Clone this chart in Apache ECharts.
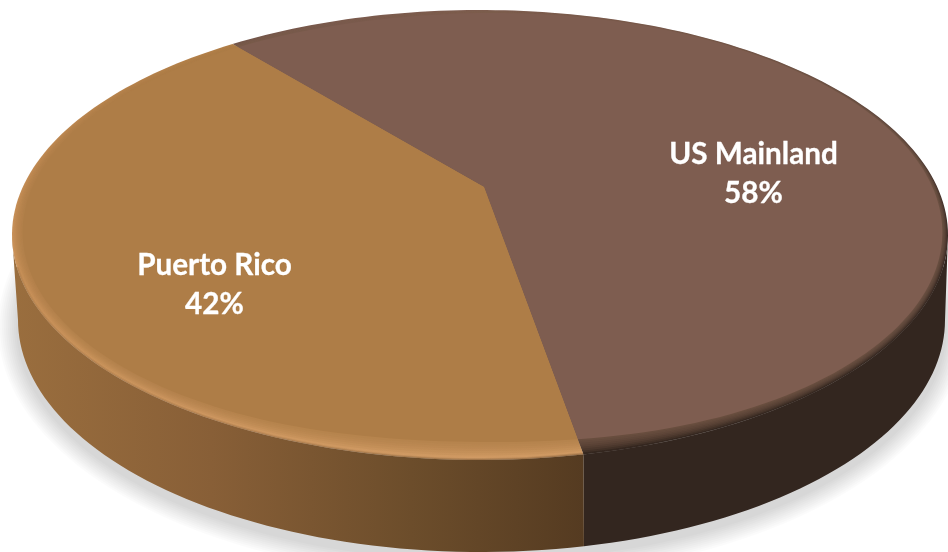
<!DOCTYPE html>
<html>
<head>
<meta charset="utf-8">
<style>html,body{margin:0;padding:0;background:#fff}#c{width:948px;height:552px}</style>
<script src="https://cdn.jsdelivr.net/npm/echarts@6/dist/echarts.min.js"></script>
</head>
<body>
<div id="c"></div>
<script>
const categories = ['US Mainland', 'Puerto Rico'];
const shares = [58, 42];

const faceColors = ['#7E5D50', '#AE7D47'];
const rimColors = [
  [[0, '#7E5D50'], [0.22, '#5E463C'], [0.5, '#3A2A24'], [1, '#35271F']],
  [[0, '#AE7D47'], [0.3, '#BE8851'], [0.55, '#CC935A'], [1, '#D69F68']]
];
const wallColors = [
  [[0, '#33261F'], [1, '#33261F']],
  [[0, '#9A6E3E'], [0.35, '#885F37'], [0.7, '#6C4D2B'], [1, '#553B21']]
];
const labelAnchors = [[753.5, 174], [214.5, 285]];

const START_DEG = 230.9;
const TOP = { cx: 480, cy: 235, rx: 468, ry: 225 };
const INNER = { cx: 482.5, cy: 227.5, rx: 460.5, ry: 214.5 };
const BOTTOM = { cx: 481.5, cy: 320, rx: 463.5, ry: 232 };
const APEX = [484, 187];
const SKEW = -0.213;
const BANDS = 8;
const total = shares.reduce((a, b) => a + b, 0);

function project(e, rad) {
  const x = Math.cos(rad), y = Math.sin(rad), p = SKEW;
  const d = 1 + p * y;
  return [e.cx + e.rx * x * Math.sqrt(1 - p * p) / d, e.cy + e.ry * (y + p) / d];
}
function arc(e, a0, a1) {
  const pts = [], n = Math.max(2, Math.ceil(Math.abs(a1 - a0) * 40));
  for (let i = 0; i <= n; i++) pts.push(project(e, a0 + (a1 - a0) * i / n));
  return pts;
}
function insetArc(frac, a0, a1) {
  const outer = arc(TOP, a0, a1), inner = arc(INNER, a0, a1);
  return outer.map((o, i) => {
    const s = Math.hypot(inner[i][0] - APEX[0], inner[i][1] - APEX[1]) /
              Math.hypot(o[0] - APEX[0], o[1] - APEX[1]);
    const f = 1 - (1 - s) * frac;
    return [APEX[0] + (o[0] - APEX[0]) * f, APEX[1] + (o[1] - APEX[1]) * f];
  });
}
function grad(stops, x0, y0, x1, y1) {
  return new echarts.graphic.LinearGradient(x0, y0, x1, y1,
    stops.map(s => ({ offset: s[0], color: s[1] })), true);
}
function frontRange(a0, a1) {
  const tR = Math.asin(-SKEW), tL = Math.PI - tR;
  for (let k = -1; k <= 2; k++) {
    const s = Math.max(a0, tR + 2 * Math.PI * k), e = Math.min(a1, tL + 2 * Math.PI * k);
    if (e > s) return [s, e];
  }
  return null;
}

function renderSlice(params, api) {
  const i = params.dataIndex;
  let before = 0;
  for (let k = 0; k < i; k++) before += shares[k];
  const a0 = (START_DEG + before / total * 360) * Math.PI / 180;
  const a1 = a0 + api.value(0) / total * Math.PI * 2;
  const children = [];
  if (i === 0) {
    for (let k = 1; k <= 10; k++) {
      const grow = (11 - k) * 2;
      children.push({
        type: 'polygon', z2: 0, silent: true,
        shape: { points: arc({ cx: BOTTOM.cx, cy: BOTTOM.cy + 7, rx: BOTTOM.rx + grow, ry: BOTTOM.ry + grow }, 0, Math.PI * 2) },
        style: { fill: 'rgba(0,0,0,0.014)' }
      });
    }
  }
  const wallFill = grad(wallColors[i], 12, 0, 583, 0);
  const front = frontRange(a0, a1);
  if (front) {
    children.push({
      type: 'polygon', z2: 1,
      shape: { points: arc(TOP, front[0], front[1]).concat(arc(BOTTOM, front[0], front[1]).reverse()) },
      style: { fill: wallFill }
    });
  }
  children.push({
    type: 'polygon', z2: 2,
    shape: { points: [APEX].concat(arc(TOP, a0, a1)) },
    style: { fill: grad(rimColors[i], 0, 10, 0, 460) }
  });
  if (front) {
    const s = front[0] === a0 ? a0 : front[0] + 0.14;
    const e = front[1] === a1 ? a1 : front[1] - 0.14;
    const softEdge = arc(TOP, s, e);
    children.push({
      type: 'polyline', z2: 3,
      shape: { points: softEdge },
      style: { fill: 'none', stroke: wallFill, lineWidth: 4, opacity: 0.22 }
    });
    children.push({
      type: 'polyline', z2: 3,
      shape: { points: softEdge },
      style: { fill: 'none', stroke: wallFill, lineWidth: 2, opacity: 0.3 }
    });
  }
  for (let b = 1; b <= BANDS; b++) {
    children.push({
      type: 'polygon', z2: 3 + b,
      shape: { points: [APEX].concat(insetArc(b / BANDS, a0, a1)) },
      style: { fill: faceColors[i], opacity: b === BANDS ? 1 : 0.17 }
    });
  }
  const pct = Math.round(api.value(0) / total * 100) + '%';
  children.push({
    type: 'text', z2: 20,
    x: labelAnchors[i][0], y: labelAnchors[i][1],
    style: {
      text: categories[i] + '\n' + pct,
      fill: '#fff', stroke: '#fff', lineWidth: 0.3,
      font: '700 29.7px Lato', align: 'center', verticalAlign: 'middle', lineHeight: 39
    }
  });
  return { type: 'group', children };
}

const chart = echarts.init(document.getElementById('c'), null, { renderer: 'canvas' });
chart.setOption({
  animation: false,
  backgroundColor: '#fff',
  series: [{
    type: 'custom',
    coordinateSystem: 'none',
    renderItem: renderSlice,
    clip: false,
    silent: true,
    data: shares.map((v, i) => ({ name: categories[i], value: [v] }))
  }]
});
</script>
</body>
</html>
